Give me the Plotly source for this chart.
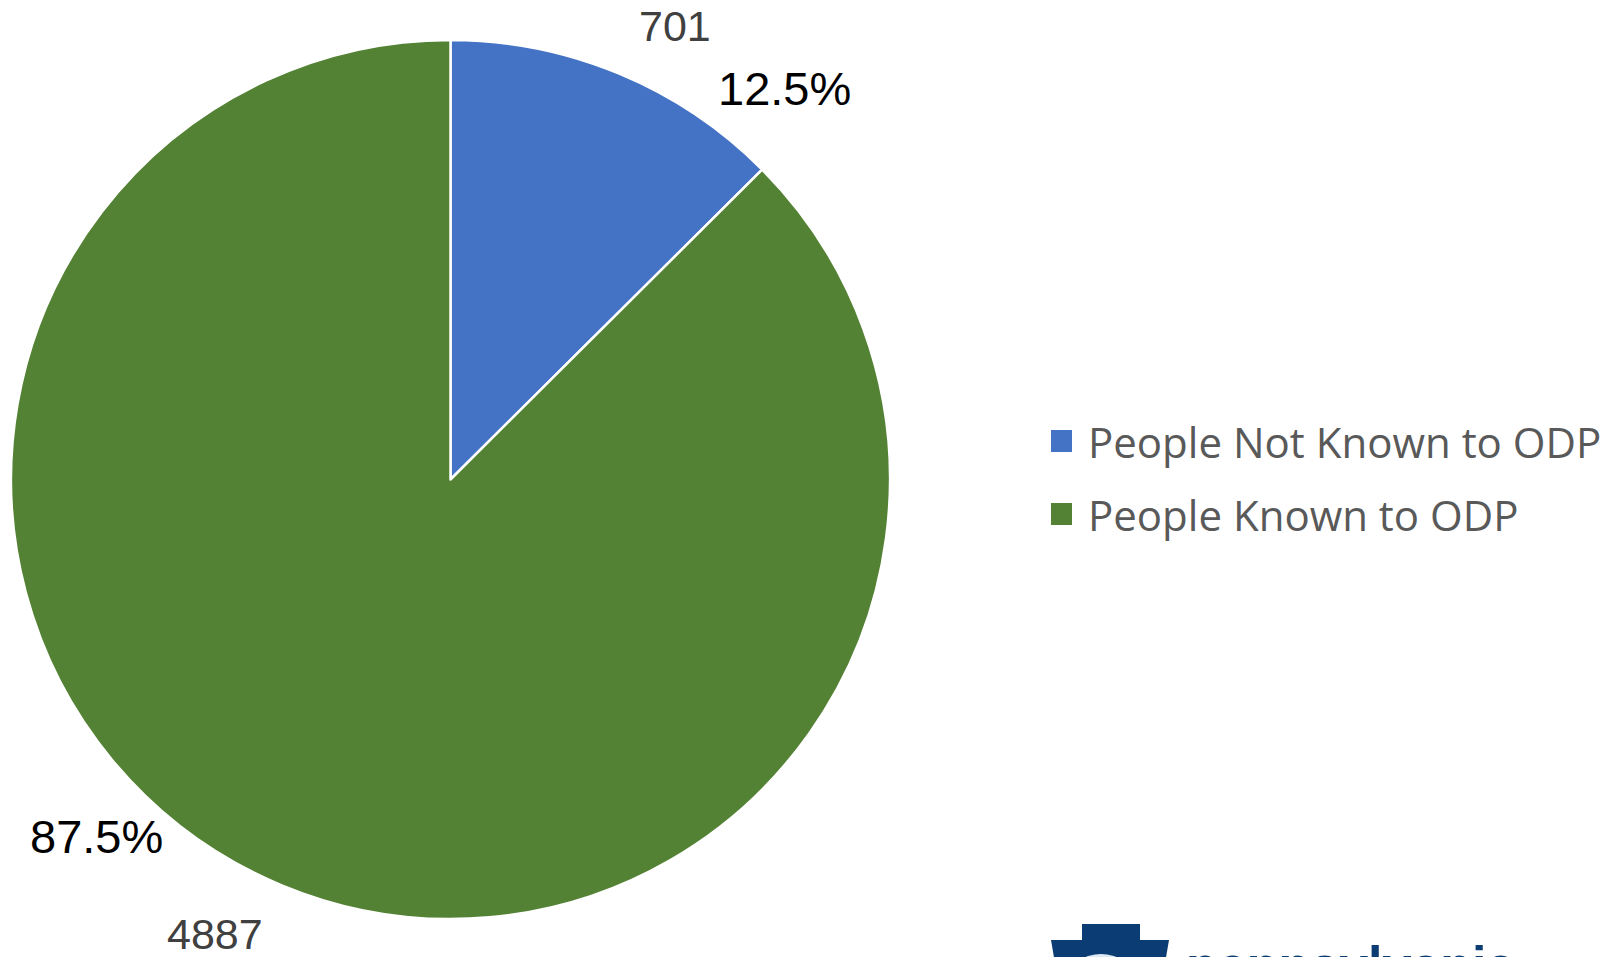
import plotly.graph_objects as go

categories = ["People Not Known to ODP", "People Known to ODP"]
values = [701, 4887]
colors = ["#4472C4", "#548235"]

W, H = 1618, 957
total = sum(values)
pcts = [v / total * 100 for v in values]

fig = go.Figure()
fig.add_trace(go.Pie(
    labels=categories,
    values=values,
    sort=False,
    direction="clockwise",
    rotation=0,
    marker=dict(colors=colors, line=dict(color="white", width=2.5)),
    textinfo="none",
    hoverinfo="label+value+percent",
    showlegend=False,
    domain=dict(x=[11 / W, 890 / W], y=[1 - 919 / H, 1 - 40 / H]),
))


def px(x, y):
    return x / W, 1 - y / H


# value and percent labels (pixel anchor positions)
label_pos = [
    {"val": (675, 26), "pct": (784, 88)},
    {"val": (215, 934), "pct": (96, 836)},
]
annotations = []
shapes = []
for i, v in enumerate(values):
    vx, vy = px(*label_pos[i]["val"])
    qx, qy = px(*label_pos[i]["pct"])
    annotations.append(dict(x=vx, y=vy, xref="paper", yref="paper", text=str(v),
                            showarrow=False, xanchor="center", yanchor="middle",
                            font=dict(family="Liberation Sans", size=43, color="#404040")))
    annotations.append(dict(x=qx, y=qy, xref="paper", yref="paper", text=f"{pcts[i]:.1f}%",
                            showarrow=False, xanchor="center", yanchor="middle",
                            font=dict(family="Liberation Sans", size=47, color="#000000")))

# custom legend (square swatches + labels)
legend_y = [441, 514]
for i, cat in enumerate(categories):
    cy = legend_y[i]
    x0, y0 = px(1051, cy - 11)
    x1, y1 = px(1072, cy + 11)
    shapes.append(dict(type="rect", xref="paper", yref="paper", x0=x0, x1=x1, y0=y0, y1=y1,
                       fillcolor=colors[i], line=dict(width=0)))
    tx, ty = px(1086, cy)
    annotations.append(dict(x=tx, y=ty, xref="paper", yref="paper", text=cat,
                            showarrow=False, xanchor="left", yanchor="middle",
                            font=dict(family="Open Sans", size=42, color="#595959")))

# partial logo text at the bottom right
lx, ly = px(1184, 934)
annotations.append(dict(x=lx, y=ly, xref="paper", yref="paper", text="<b>pennsylvania</b>",
                        showarrow=False, xanchor="left", yanchor="top",
                        font=dict(family="Liberation Sans", size=52, color="#0B3D74")))


def kp(x, y):
    return f"{x/W},{1-y/H}"


keystone = ("M " + kp(1082, 924) + " L " + kp(1140, 924) + " L " + kp(1140, 940) + " L " + kp(1169, 940)
            + " L " + kp(1163, 975) + " L " + kp(1057, 975) + " L " + kp(1051, 940) + " L " + kp(1082, 940) + " Z")
shapes.append(dict(type="path", xref="paper", yref="paper", path=keystone,
                   fillcolor="#0B3D74", line=dict(width=0), layer="above"))
ex0, ey0 = px(1070, 954)
ex1, ey1 = px(1132, 1000)
shapes.append(dict(type="circle", xref="paper", yref="paper", x0=ex0, x1=ex1, y0=ey0, y1=ey1,
                   fillcolor="#DCE9F6", line=dict(width=0), layer="above"))

fig.update_layout(
    width=W, height=H,
    margin=dict(l=0, r=0, t=0, b=0),
    paper_bgcolor="white",
    plot_bgcolor="white",
    showlegend=False,
    annotations=annotations,
    shapes=shapes,
)

fig.write_html("out.html", config={"displayModeBar": False},
               post_script="document.body.style.margin='0';document.body.style.overflow='hidden';")
